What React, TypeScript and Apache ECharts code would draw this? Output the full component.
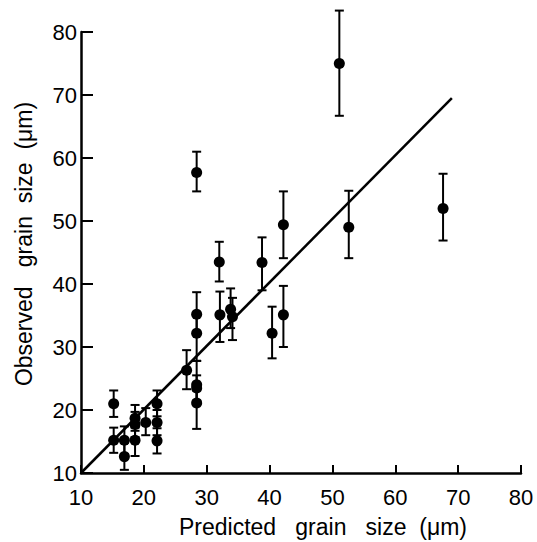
import React, { useEffect, useRef } from "react";
import * as echarts from "echarts";

const predicted = [15.2, 15.2, 16.9, 16.9, 18.6, 18.6, 18.6, 20.3, 22.1, 22.1, 22.1, 26.8, 28.4, 28.4, 28.4, 28.4, 28.4, 28.4, 32.0, 32.1, 33.8, 34.1, 38.8, 40.4, 42.2, 42.2, 51.1, 52.6, 67.6];
const observed = [21.0, 15.2, 15.2, 12.6, 18.7, 17.7, 15.2, 18.0, 21.0, 18.0, 15.1, 26.3, 57.7, 35.2, 32.2, 24.0, 23.5, 21.1, 43.5, 35.1, 36.0, 34.8, 43.4, 32.2, 35.1, 49.4, 75.0, 49.0, 52.0];
const errUp = [2.1, 2.0, 2.2, 2.2, 2.1, 2.0, 2.0, 2.3, 2.1, 2.0, 2.0, 3.2, 3.3, 3.5, 3.0, 3.8, 2.0, 2.0, 3.2, 3.7, 3.3, 3.0, 4.0, 4.2, 4.6, 5.3, 8.4, 5.8, 5.5];
const errDown = [2.1, 2.0, 2.2, 2.1, 2.0, 2.0, 2.5, 2.0, 2.0, 2.0, 2.0, 3.0, 3.0, 3.0, 4.4, 3.0, 2.0, 4.1, 3.1, 4.3, 3.0, 3.7, 4.4, 4.0, 5.1, 5.3, 8.3, 4.9, 5.1];
const fitLine = [[10, 10], [69, 69.5]];
const ticks = [10, 20, 30, 40, 50, 60, 70, 80];

const xTitle = "Predicted   grain   size  (\u03bcm)";
const yTitle = "Observed   grain  size  (\u03bcm)";

export default function App() {
  const ref = useRef<HTMLDivElement>(null);
  useEffect(() => {
    if (!ref.current) return;
    const chart = echarts.init(ref.current, undefined, { renderer: "svg" });
    const font = "Liberation Sans";
    const axisCommon = (len: number) => ({
      type: "value",
      min: ticks[0],
      max: ticks[ticks.length - 1],
      interval: 10,
      splitLine: { show: false },
      axisLine: { show: true, lineStyle: { color: "#000", width: 2.5 } },
      axisTick: { show: true, inside: true, length: len, lineStyle: { color: "#000", width: 2 } },
      axisLabel: { color: "#000", fontSize: 22, fontFamily: font, margin: 4 },
    });
    const errData = predicted.map((x, i) => [x, observed[i] - errDown[i], observed[i] + errUp[i]]);
    chart.setOption({
      animation: false,
      backgroundColor: "#fff",
      grid: { left: 81, right: 16, top: 32, bottom: 69, containLabel: false },
      xAxis: { ...axisCommon(8), axisLabel: { color: "#000", fontSize: 22, fontFamily: font, margin: 13 } },
      yAxis: axisCommon(12),
      graphic: [
        {
          type: "text",
          x: 323,
          y: 527,
          style: { text: xTitle, fill: "#000", font: `23px "${font}"`, textAlign: "center", textVerticalAlign: "middle" },
        },
        {
          type: "text",
          x: 24,
          y: 244,
          rotation: Math.PI / 2,
          style: { text: yTitle, fill: "#000", font: `23px "${font}"`, textAlign: "center", textVerticalAlign: "middle" },
        },
      ],
      series: [
        {
          type: "line",
          data: fitLine,
          symbol: "none",
          lineStyle: { color: "#000", width: 2.5 },
          z: 1,
        },
        {
          type: "custom",
          clip: false,
          data: errData,
          encode: { x: 0, y: [1, 2] },
          renderItem: (params: any, api: any) => {
            const x = api.value(0);
            const lo = api.coord([x, api.value(1)]);
            const hi = api.coord([x, api.value(2)]);
            const hw = 4.5;
            const st = { stroke: "#000", lineWidth: 2 };
            return {
              type: "group",
              children: [
                { type: "line", shape: { x1: hi[0], y1: hi[1], x2: lo[0], y2: lo[1] }, style: st },
                { type: "line", shape: { x1: hi[0] - hw, y1: hi[1], x2: hi[0] + hw, y2: hi[1] }, style: st },
                { type: "line", shape: { x1: lo[0] - hw, y1: lo[1], x2: lo[0] + hw, y2: lo[1] }, style: st },
              ],
            };
          },
          z: 2,
        },
        {
          type: "scatter",
          data: predicted.map((x, i) => [x, observed[i]]),
          symbol: "circle",
          symbolSize: 11,
          itemStyle: { color: "#000", opacity: 1 },
          z: 3,
        },
      ],
    });
    return () => chart.dispose();
  }, []);
  return <div ref={ref} style={{ position: "absolute", left: 0, top: 0, width: 537, height: 542 }} />;
}
